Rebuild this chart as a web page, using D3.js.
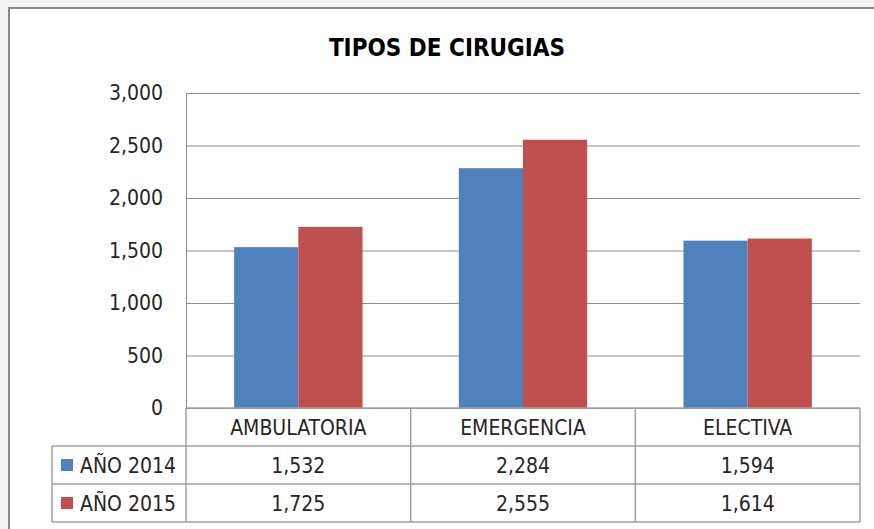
<!DOCTYPE html>
<html>
<head>
<meta charset="utf-8">
<script src="https://cdn.jsdelivr.net/npm/d3@7"></script>
<style>
  html, body { margin: 0; padding: 0; background: #f3f3f3; }
  svg { display: block; }
  text { font-family: "Liberation Sans Narrow", "DejaVu Sans Condensed", sans-serif; fill: #262626; }
</style>
</head>
<body>
<script>
// data
const categories = ["AMBULATORIA", "EMERGENCIA", "ELECTIVA"];
const seriesNames = ["AÑO 2014", "AÑO 2015"];
const values2014 = [1532, 2284, 1594];
const values2015 = [1725, 2555, 1614];
const yTicks = [0, 500, 1000, 1500, 2000, 2500, 3000];
const colors = ["#4f81bd", "#c0504d"];

const w = 874, h = 529;
const plotL = 186, plotR = 860, plotT = 93, plotB = 408;
const rowH = [408, 446, 484, 522];

const svg = d3.select("body").append("svg")
    .attr("width", w)
    .attr("height", h);

// chart area
svg.append("rect")
    .attr("x", 9).attr("y", 8)
    .attr("width", 900).attr("height", 540)
    .attr("fill", "#fff")
    .attr("stroke", "#8a8a8a")
    .attr("stroke-width", 2);

svg.append("text")
    .attr("x", 447).attr("y", 56)
    .attr("text-anchor", "middle")
    .attr("font-size", 24)
    .attr("font-weight", "bold")
    .style("fill", "#000")
    .text("TIPOS DE CIRUGIAS");

const x = d3.scaleBand()
    .domain(categories)
    .range([plotL, plotR]);

const groupW = x.step() * 2 / 3.5;
const xs = d3.scaleBand()
    .domain(seriesNames)
    .range([0, groupW]);

const y = d3.scaleLinear()
    .domain([0, 3000])
    .range([plotB, plotT]);

// gridlines
svg.append("g").selectAll("line")
    .data(yTicks)
    .enter().append("line")
    .attr("x1", plotL).attr("x2", plotR)
    .attr("y1", d => y(d) + 0.5).attr("y2", d => y(d) + 0.5)
    .attr("stroke", "#8c8c8c")
    .attr("stroke-width", 1);

// y labels
const yAxis = d3.axisLeft(y)
    .tickValues(yTicks)
    .tickSize(0)
    .tickPadding(23)
    .tickFormat(d3.format(","));
const gy = svg.append("g")
    .attr("transform", `translate(${plotL},0)`)
    .call(yAxis);
gy.select(".domain").remove();
gy.attr("font-family", null).attr("font-size", null);
gy.selectAll("text")
    .attr("font-size", 21);

// bars
const series = [values2014, values2015];
series.forEach((vals, si) => {
    svg.append("g").selectAll("rect")
        .data(vals)
        .enter().append("rect")
        .attr("x", (d, i) => x(categories[i]) + (x.step() - groupW) / 2 + xs(seriesNames[si]))
        .attr("y", d => y(d))
        .attr("width", xs.bandwidth())
        .attr("height", d => y(0) - y(d))
        .attr("fill", colors[si]);
});

// vertical axis line
svg.append("line")
    .attr("x1", plotL + 0.5).attr("x2", plotL + 0.5)
    .attr("y1", plotT).attr("y2", plotB)
    .attr("stroke", "#8c8c8c");

// data table
const tbl = svg.append("g").attr("stroke", "#a0a0a0").attr("stroke-width", 1.5);
const colEdges = [plotL].concat(categories.map(c => x(c) + x.step()));
rowH.forEach((ry, i) => {
    tbl.append("line")
        .attr("x1", i === 0 ? plotL : 52).attr("x2", plotR)
        .attr("y1", ry).attr("y2", ry);
});
colEdges.forEach(cx => {
    tbl.append("line")
        .attr("x1", cx).attr("x2", cx)
        .attr("y1", rowH[0]).attr("y2", rowH[3]);
});
tbl.append("line")
    .attr("x1", 52).attr("x2", 52)
    .attr("y1", rowH[1]).attr("y2", rowH[3]);

// category labels
svg.append("g").selectAll("text")
    .data(categories)
    .enter().append("text")
    .attr("x", d => x(d) + x.bandwidth() / 2)
    .attr("y", (rowH[0] + rowH[1]) / 2 + 8)
    .attr("text-anchor", "middle")
    .attr("font-size", 21)
    .text(d => d);

// rows
series.forEach((vals, si) => {
    const cy = (rowH[si + 1] + rowH[si + 2]) / 2;
    svg.append("rect")
        .attr("x", 61).attr("y", cy - 6)
        .attr("width", 12).attr("height", 12)
        .attr("fill", colors[si]);
    svg.append("text")
        .attr("x", 80).attr("y", cy + 8)
        .attr("font-size", 21)
        .text(seriesNames[si]);
    svg.append("g").selectAll("text")
        .data(vals)
        .enter().append("text")
        .attr("x", (d, i) => x(categories[i]) + x.bandwidth() / 2)
        .attr("y", cy + 8)
        .attr("text-anchor", "middle")
        .attr("font-size", 21)
        .text(d => d3.format(",")(d));
});
</script>
</body>
</html>
